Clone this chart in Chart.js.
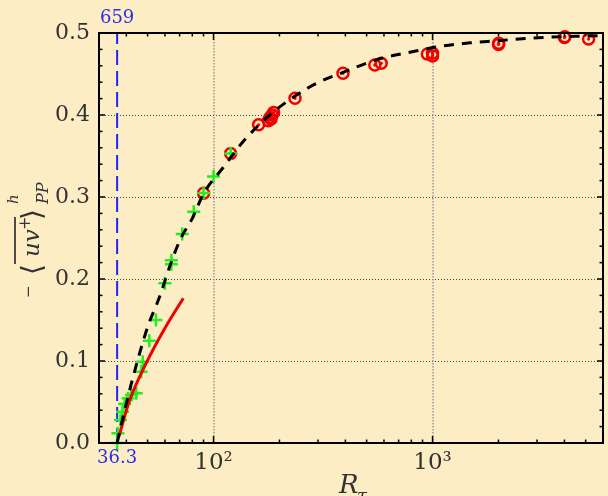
<!DOCTYPE html>
<html><head><meta charset="utf-8">
<script src="https://cdn.jsdelivr.net/npm/chart.js@4.4.1/dist/chart.umd.min.js"></script>
<style>
html,body{margin:0;padding:0;background:#FDEDC4;overflow:hidden;}
#wrap{position:absolute;left:0;top:0;width:612px;height:496px;}
</style></head><body>
<div id="wrap"><canvas id="c" width="612" height="496"></canvas></div>
<script>
// ---------- data ----------
const xTickValues = [100, 1000];
const xTickLabels = ['10²', '10³'];
const yTickValues = [0, 0.1, 0.2, 0.3, 0.4, 0.5];
const yTickLabels = ['0.0', '0.1', '0.2', '0.3', '0.4', '0.5'];
const markX = 36.3;
const markLabelBottom = '36.3';
const markLabelTop = '659';

// black dashed fit curve
const fitX = [36.3, 37.5, 42.2, 50.1, 56.5, 63.8, 70.7, 80, 90.2, 111.5, 136, 177, 276, 390, 583, 838, 1104, 1483, 1982, 2705, 3838, 5045, 6000];
const fitY = [0, 0.017, 0.073, 0.142, 0.177, 0.219, 0.249, 0.274, 0.3045, 0.337, 0.367, 0.398, 0.4345, 0.452, 0.469, 0.478, 0.484, 0.488, 0.4906, 0.4935, 0.4955, 0.4963, 0.497];

// red solid line
const redLineX = [37.0, 41.4, 49.2, 60.6, 72.8];
const redLineY = [0.008, 0.052, 0.097, 0.142, 0.1765];

// red circles
const circX = [90.1, 119.7, 160.6, 178, 181, 185, 188, 183, 235.5, 390, 545, 583, 947, 1000, 1000, 2004, 2000, 4018, 4000, 5155];
const circY = [0.3045, 0.353, 0.388, 0.393, 0.397, 0.400, 0.403, 0.395, 0.4204, 0.451, 0.461, 0.463, 0.4744, 0.4752, 0.472, 0.4874, 0.486, 0.4955, 0.4945, 0.4927];

// green crosses
const plusX = [36.3, 36.6, 37.6, 38.4, 39.3, 40.7, 42.2, 44.4, 46.7, 47.5, 50.9, 54.6, 60.0, 64.2, 64.2, 72.0, 81.2, 90.1, 100, 119.7];
const plusY = [0.0, 0.012, 0.028, 0.038, 0.048, 0.0545, 0.0585, 0.0606, 0.087, 0.099, 0.1248, 0.15, 0.1947, 0.223, 0.218, 0.2549, 0.282, 0.305, 0.325, 0.353];

// ---------- style ----------
const BG = '#FDEDC4';
const TXT = '#333333';
const BLUE = '#2222FF';
const RED = '#F00000';
const GREEN = '#22EE22';
const SERIF = '"DejaVu Serif", "Liberation Serif", serif';

const toPts = (xs, ys) => xs.map((x, i) => ({ x: x, y: ys[i] }));

const deco = {
  id: 'deco',
  beforeDraw(chart) {
    const ctx = chart.ctx;
    ctx.save();
    ctx.fillStyle = BG;
    ctx.fillRect(0, 0, chart.width, chart.height);
    ctx.restore();
  },
  beforeDatasetsDraw(chart) {
    const ctx = chart.ctx, a = chart.chartArea;
    const xs = chart.scales.x, ys = chart.scales.y;
    ctx.save();
    ctx.strokeStyle = '#444';
    ctx.lineWidth = 1;
    ctx.setLineDash([1, 2]);
    yTickValues.forEach(v => {
      if (v <= ys.min || v >= ys.max) return;
      const y = Math.round(ys.getPixelForValue(v)) + 0.5;
      ctx.beginPath(); ctx.moveTo(a.left, y); ctx.lineTo(a.right, y); ctx.stroke();
    });
    ctx.strokeStyle = '#999';
    ctx.lineWidth = 1.5;
    ctx.setLineDash([1.5, 1.5]);
    xTickValues.forEach(v => {
      const x = Math.round(xs.getPixelForValue(v));
      ctx.beginPath(); ctx.moveTo(x, a.top); ctx.lineTo(x, a.bottom); ctx.stroke();
    });
    ctx.restore();
  },
  afterDatasetsDraw(chart) {
    const ctx = chart.ctx, a = chart.chartArea;
    const xs = chart.scales.x, ys = chart.scales.y;
    ctx.save();
    ctx.setLineDash([]);
    ctx.strokeStyle = '#000';
    ctx.lineWidth = 2;
    ctx.strokeRect(a.left, a.top, a.right - a.left, a.bottom - a.top);
    ctx.lineWidth = 1.5;
    const tick = (x1, y1, x2, y2) => { ctx.beginPath(); ctx.moveTo(x1, y1); ctx.lineTo(x2, y2); ctx.stroke(); };
    for (let i = 0; i <= 25; i++) {
      const v = i * 0.02;
      const y = ys.getPixelForValue(v);
      const major = (i % 5 === 0);
      const L = major ? 6 : 3.5;
      tick(a.left, y, a.left + L, y);
      tick(a.right, y, a.right - L, y);
    }
    for (let d = 1; d <= 3; d++) {
      for (let k = 1; k <= 9; k++) {
        const v = k * Math.pow(10, d);
        if (v < xs.min || v > xs.max) continue;
        const x = xs.getPixelForValue(v);
        const L = (k === 1) ? 7 : 3.5;
        tick(x, a.bottom, x, a.bottom - L);
        tick(x, a.top, x, a.top + L);
      }
    }
    const xm = xs.getPixelForValue(markX);
    tick(xm, a.bottom, xm, a.bottom - 3.5);
    ctx.fillStyle = '#2a2ae6';
    ctx.font = '18px ' + SERIF;
    ctx.textAlign = 'center';
    ctx.textBaseline = 'alphabetic';
    ctx.fillText(markLabelTop, xm, 23);
    ctx.fillText(markLabelBottom, xm, 463);

    ctx.fillStyle = TXT;
    ctx.textAlign = 'left';
    ctx.font = 'italic 26px ' + SERIF;
    ctx.fillText('R', 339, 493);
    ctx.font = 'italic 18px ' + SERIF;
    ctx.fillText('τ', 357, 502);

    ctx.translate(39, 298);
    ctx.rotate(-Math.PI / 2);
    const piece = (t, font, u, v) => { ctx.font = font; ctx.fillText(t, u, v); };
    piece('−', '15px ' + SERIF, 0, -6);
    piece('⟨', '28px ' + SERIF, 23, 2);
    piece('uv', 'italic 23px ' + SERIF, 41, 0);
    piece('+', '16px ' + SERIF, 68, -9);
    ctx.lineWidth = 1.6;
    ctx.strokeStyle = '#222';
    ctx.beginPath(); ctx.moveTo(34, -24); ctx.lineTo(81, -24); ctx.stroke();
    piece('⟩', '28px ' + SERIF, 78, 2);
    piece('h', 'italic 15px ' + SERIF, 94, -21);
    piece('PP', 'italic 16px ' + SERIF, 94, 9);
    ctx.restore();
  }
};

new Chart(document.getElementById('c'), {
  type: 'scatter',
  data: {
    datasets: [
      { label: 'fit', data: toPts(fitX, fitY), showLine: true, borderColor: '#000', borderWidth: 3, borderDash: [10, 8],
        pointRadius: 0, fill: false, cubicInterpolationMode: 'monotone', order: 1 },
      { label: 'red line', data: toPts(redLineX, redLineY), showLine: true, borderColor: RED, borderWidth: 3,
        pointRadius: 0, fill: false, cubicInterpolationMode: 'monotone', order: 2 },
      { label: 'plus', data: toPts(plusX, plusY), showLine: false, pointStyle: 'cross', pointRadius: 6.5,
        borderColor: GREEN, backgroundColor: GREEN, pointBorderWidth: 2.5, clip: false, order: 3 },
      { label: 'dots', data: toPts(circX, circY), showLine: false, pointStyle: 'circle', pointRadius: 1.4,
        borderColor: RED, backgroundColor: RED, pointBorderWidth: 0.5, clip: false, order: 4 },
      { label: 'circles', data: toPts(circX, circY), showLine: false, pointStyle: 'circle', pointRadius: 5.5,
        borderColor: RED, backgroundColor: 'rgba(0,0,0,0)', pointBorderWidth: 2.5, clip: false, order: 5 },
      { label: 'mark', data: [{ x: markX, y: 0 }, { x: markX, y: 0.5 }], showLine: true, borderColor: BLUE,
        borderWidth: 2, borderDash: [15, 6], pointRadius: 0, fill: false, order: 6 }
    ]
  },
  options: {
    responsive: false,
    animation: false,
    devicePixelRatio: 1,
    layout: { padding: { top: 33, right: 2, left: 0, bottom: 0 } },
    plugins: { legend: { display: false }, tooltip: { enabled: false } },
    scales: {
      x: {
        type: 'logarithmic', min: 30, max: 6000,
        grid: { display: false, drawTicks: false }, border: { display: false },
        afterBuildTicks: s => { s.ticks = xTickValues.map(v => ({ value: v })); },
        afterFit: s => { s.height = 53; },
        ticks: { color: TXT, font: { family: SERIF, size: 23 }, padding: 6, maxRotation: 0, autoSkip: false,
          callback: (v) => { const i = xTickValues.indexOf(v); return i >= 0 ? xTickLabels[i] : ''; } }
      },
      y: {
        type: 'linear', min: 0, max: 0.5,
        grid: { display: false, drawTicks: false }, border: { display: false },
        afterBuildTicks: s => { s.ticks = yTickValues.map(v => ({ value: v })); },
        afterFit: s => { s.width = 99; },
        ticks: { color: TXT, font: { family: SERIF, size: 22 }, padding: 9,
          callback: (v) => { const i = yTickValues.findIndex(t => Math.abs(t - v) < 1e-9); return i >= 0 ? yTickLabels[i] : ''; } }
      }
    }
  },
  plugins: [deco]
});
</script>
</body></html>
